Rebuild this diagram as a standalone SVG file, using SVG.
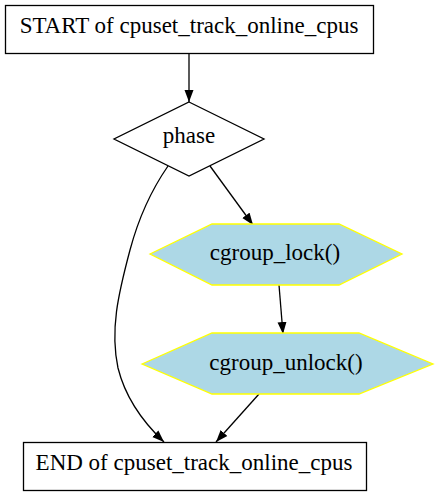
<svg xmlns="http://www.w3.org/2000/svg" width="437" height="496" viewBox="0 0 437 496">
<defs>
<style>
text{font-family:"Liberation Serif","Times New Roman",serif;font-size:23px;text-anchor:middle;fill:#000}
.box{fill:#fff;stroke:#000;stroke-width:1.3}
.hex{fill:#add8e6;stroke:#ffff00;stroke-width:1.3}
.edge{fill:none;stroke:#000;stroke-width:1.3}
</style>
<marker id="arr" markerWidth="12" markerHeight="10" refX="12" refY="5" orient="auto" markerUnits="userSpaceOnUse" viewBox="0 0 12 10">
<path d="M0,0.5 L12,5 L0,9.5 Z" fill="#000"/>
</marker>
</defs>
<rect width="437" height="496" fill="#fff"/>
<g id="edges">
<path class="edge" d="M189,53 L189,102" marker-end="url(#arr)"/>
<path class="edge" d="M210,166 L253,225" marker-end="url(#arr)"/>
<path class="edge" d="M168,166 C150,192 138,220 130,250 C118,295 110,330 118,368 C126,400 145,424 164,442" marker-end="url(#arr)"/>
<path class="edge" d="M279,285 L283,334" marker-end="url(#arr)"/>
<path class="edge" d="M259,394 L216,442" marker-end="url(#arr)"/>
</g>
<g id="start">
<rect class="box" x="5.5" y="5.5" width="368" height="48"/>
<text x="189" y="33">START of cpuset_track_online_cpus</text>
</g>
<g id="phase">
<polygon class="box" points="189,102 264,139 189,176 114,139"/>
<text x="189" y="143">phase</text>
</g>
<g id="cgroup_lock">
<polygon class="hex" points="150,254 212,224 339,224 402,254 339,285 212,285"/>
<text x="275" y="260">cgroup_lock()</text>
</g>
<g id="cgroup_unlock">
<polygon class="hex" points="142,364 212,333 359,333 433,364 359,394 212,394"/>
<text x="286" y="370">cgroup_unlock()</text>
</g>
<g id="end">
<rect class="box" x="23.5" y="442.5" width="343" height="48"/>
<text x="194" y="470">END of cpuset_track_online_cpus</text>
</g>
</svg>
